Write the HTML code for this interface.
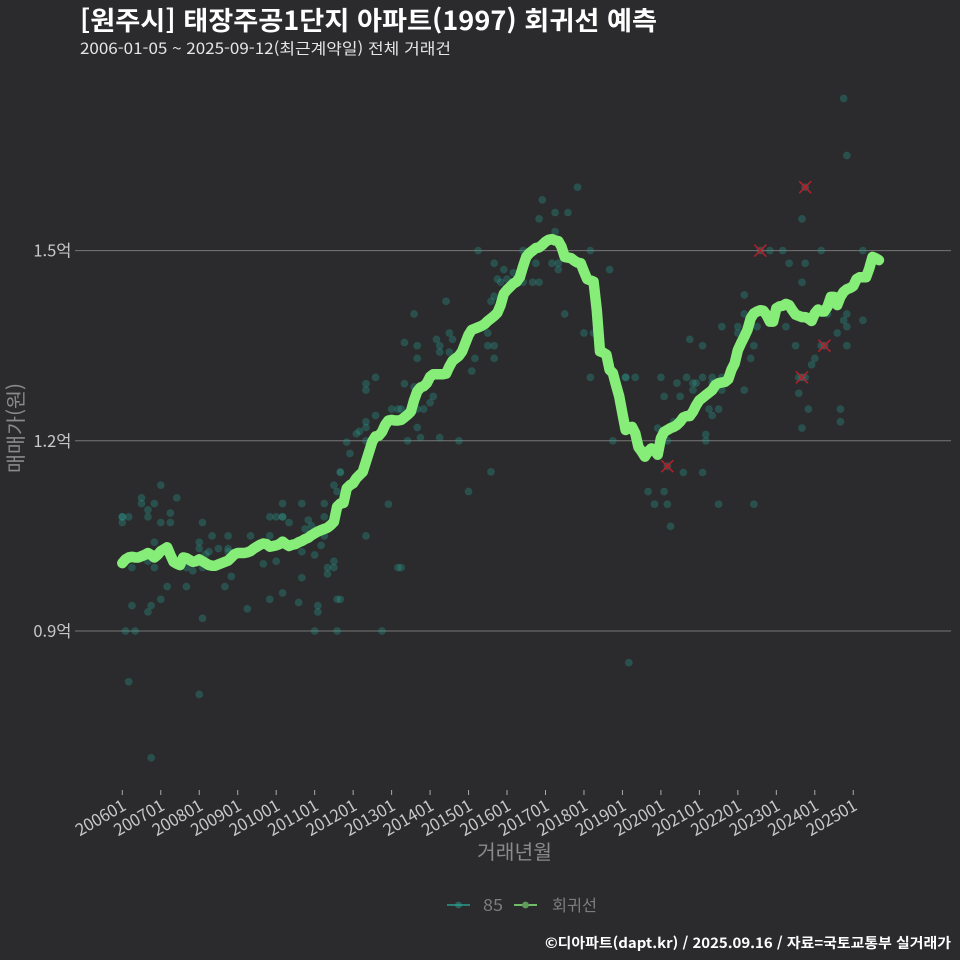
<!DOCTYPE html>
<html lang="ko">
<head>
<meta charset="utf-8">
<title>태장주공1단지 아파트 회귀선 예측</title>
<style>
html,body{margin:0;padding:0;background:#2b2b2d;}
svg{display:block;font-family:"Noto Sans CJK KR","Liberation Sans",sans-serif;}
</style>
</head>
<body>
<svg id="chart" width="960" height="960" viewBox="0 0 960 960" xmlns="http://www.w3.org/2000/svg">
<rect x="0" y="0" width="960" height="960" fill="#2b2b2d"/>
<text x="80" y="30" font-size="26" font-weight="700" fill="#ffffff" textLength="577" lengthAdjust="spacingAndGlyphs">[원주시] 태장주공1단지 아파트(1997) 회귀선 예측</text>
<text x="80" y="54" font-size="15.5" fill="#e6e6e6" textLength="371" lengthAdjust="spacingAndGlyphs">2006-01-05 ~ 2025-09-12(최근계약일) 전체 거래건</text>
<g id="grid"></g>
<g id="yticks"></g>
<g id="xticks"></g>
<g id="points"></g>
<g id="outliers"></g>
<path id="trend" fill="none" stroke="#86ee78" stroke-width="10.5" stroke-linecap="round" stroke-linejoin="round"/>
<text x="514.5" y="859" text-anchor="middle" font-size="20" fill="#8a8a8a" textLength="75" lengthAdjust="spacingAndGlyphs">거래년월</text>
<text transform="translate(23,428) rotate(-90)" text-anchor="middle" font-size="20" fill="#8a8a8a" textLength="90" lengthAdjust="spacingAndGlyphs">매매가(원)</text>
<g>
<line x1="447" y1="905" x2="470" y2="905" stroke="#2a9d8f" stroke-width="1.5"/>
<circle cx="458.5" cy="905" r="3.4" fill="#2a9d8f" fill-opacity="0.5"/>
<text x="483" y="911" font-size="16" fill="#7d7d7d" textLength="20" lengthAdjust="spacingAndGlyphs">85</text>
<line x1="514" y1="905" x2="537" y2="905" stroke="#86ee78" stroke-width="1.5"/>
<circle cx="525.5" cy="905" r="3.4" fill="#5f9c5c"/>
<text x="552" y="911" font-size="16" fill="#7d7d7d" textLength="45" lengthAdjust="spacingAndGlyphs">회귀선</text>
</g>
<text x="545" y="948" font-size="14" font-weight="700" fill="#ffffff" textLength="406" lengthAdjust="spacingAndGlyphs">©디아파트(dapt.kr) / 2025.09.16 / 자료=국토교통부 실거래가</text>
</svg>
<script>
const xTickLabels = ["200601","200701","200801","200901","201001","201101","201201","201301","201401","201501","201601","201701","201801","201901","202001","202101","202201","202301","202401","202501"];
const yTickValues = [0.9, 1.2, 1.5];
const yTickLabels = ["0.9억", "1.2억", "1.5억"];
const regressionValues = [
1.007,1.013,1.016,1.017,1.016,1.016,1.018,1.020,1.023,1.020,1.016,1.020,
1.026,1.029,1.032,1.020,1.009,1.006,1.004,1.016,1.015,1.012,1.009,1.010,
1.013,1.010,1.007,1.004,1.003,1.003,1.005,1.007,1.009,1.011,1.016,1.021,
1.023,1.023,1.023,1.024,1.026,1.030,1.033,1.036,1.038,1.037,1.033,1.034,
1.035,1.037,1.041,1.037,1.034,1.036,1.037,1.040,1.042,1.045,1.047,1.051,
1.054,1.057,1.059,1.061,1.063,1.067,1.072,1.096,1.101,1.102,1.125,1.130,
1.133,1.141,1.146,1.151,1.167,1.183,1.199,1.207,1.208,1.214,1.225,1.232,
1.233,1.232,1.232,1.233,1.237,1.241,1.246,1.264,1.278,1.284,1.286,1.291,
1.301,1.305,1.305,1.305,1.305,1.306,1.317,1.326,1.330,1.334,1.341,1.354,
1.367,1.375,1.377,1.379,1.381,1.384,1.389,1.393,1.397,1.402,1.414,1.432,
1.438,1.443,1.448,1.451,1.458,1.475,1.490,1.496,1.500,1.504,1.505,1.509,
1.514,1.517,1.518,1.516,1.515,1.506,1.490,1.489,1.488,1.484,1.481,1.480,
1.467,1.455,1.453,1.451,1.406,1.341,1.339,1.336,1.312,1.307,1.288,1.270,
1.243,1.217,1.221,1.222,1.212,1.190,1.183,1.175,1.183,1.188,1.185,1.178,
1.204,1.214,1.217,1.220,1.222,1.225,1.230,1.237,1.239,1.239,1.246,1.256,
1.264,1.268,1.272,1.276,1.280,1.288,1.291,1.292,1.293,1.297,1.312,1.322,
1.343,1.354,1.364,1.375,1.393,1.401,1.404,1.406,1.405,1.398,1.388,1.388,
1.409,1.412,1.413,1.416,1.414,1.406,1.399,1.397,1.395,1.395,1.393,1.389,
1.401,1.407,1.404,1.404,1.412,1.427,1.427,1.414,1.427,1.435,1.439,1.441,
1.444,1.455,1.458,1.458,1.458,1.472,1.490,1.488,1.485];
const dealMonths = [
12,6,6,10,17,8,8,15,0,0,2,0,12,15,25,50,56,63,46,48,50,50,52,58,59,57,63,68,66,67,
28,33,40,46,10,24,24,27,26,30,33,33,56,62,63,60,48,44,66,64,66,64,3,10,8,20,22,25,34,56,
14,20,32,50,12,46,67,68,3,9,39,55,61,61,8,25,1,4,60,67,2,24,9,
142,131,135,139,130,135,111,125,146,116,119,129,134,136,136,152,122,120,117,118,125,128,130,
101,115,116,91,138,102,114,144,147,98,103,88,99,92,114,116,99,102,92,110,116,109,79,146,157,157,160,
76,76,88,91,97,96,84,86,87,92,94,79,76,76,74,73,92,70,76,89,93,99,105,153,71,68,115,108,
83,86,87,81,76,
168,176,181,184,187,173,178,179,184,178,187,194,169,174,183,186,184,172,167,182,182,170,170,175,181,
164,169,166,170,186,197,171,158,196,197,210,218,219,226,216,215,212,213,211,211,214,224,224,212,
225,226,213,212,199,202,206,218,231,208,213,212,194,194,226,220,225,231,187,192,198,207,226,192,223,177,181];
const dealValues = [
1.130,1.110,1.101,1.101,1.110,1.091,1.080,1.086,1.080,1.080,1.080,1.071,1.071,1.071,1.071,1.101,1.101,1.101,1.080,1.080,1.080,1.080,1.071,1.075,1.066,1.061,1.080,1.150,1.130,1.120,
1.050,1.050,1.050,1.050,1.040,1.040,1.030,1.025,1.021,1.030,1.030,1.025,1.025,1.035,1.050,1.020,1.010,1.006,1.010,1.000,1.000,0.990,1.000,1.000,1.010,1.000,0.995,1.000,0.986,0.984,
0.970,0.970,0.970,0.960,0.950,0.950,0.950,0.950,0.940,0.940,0.935,0.945,0.940,0.930,0.930,0.920,0.900,0.900,0.900,0.900,0.820,0.800,0.700,
1.600,1.580,1.560,1.560,1.550,1.530,1.500,1.500,1.500,1.480,1.470,1.480,1.480,1.480,1.470,1.470,1.465,1.455,1.455,1.450,1.450,1.450,1.450,
1.420,1.420,1.428,1.400,1.400,1.370,1.370,1.370,1.370,1.360,1.360,1.355,1.350,1.350,1.350,1.350,1.340,1.340,1.330,1.330,1.330,1.310,1.300,1.300,1.300,1.300,1.300,
1.290,1.280,1.290,1.285,1.270,1.260,1.250,1.250,1.250,1.250,1.250,1.240,1.230,1.221,1.215,1.211,1.221,1.198,1.200,1.200,1.205,1.205,1.200,1.200,1.180,1.151,1.151,1.120,
1.100,1.000,1.000,0.900,1.050,
1.300,1.300,1.300,1.300,1.300,1.291,1.291,1.291,1.291,1.280,1.280,1.280,1.270,1.270,1.250,1.250,1.240,1.230,1.220,1.210,1.200,1.200,1.160,1.150,1.150,
1.120,1.120,1.100,1.100,1.100,1.100,1.065,0.850,1.330,1.350,1.350,1.350,1.350,1.350,1.330,1.320,1.300,1.300,1.300,1.275,1.250,1.250,1.230,1.220,
1.740,1.650,1.600,1.550,1.500,1.500,1.500,1.500,1.500,1.480,1.480,1.450,1.430,1.400,1.400,1.400,1.390,1.390,1.380,1.380,1.380,1.380,1.380,1.370,1.370,1.360,1.350];
const outlierMonths = [170, 199, 212, 213, 219];
const outlierValues = [1.16, 1.5, 1.3, 1.6, 1.35];

const SVG_NS = 'http://www.w3.org/2000/svg';
function xScale(month) { return 122.3 + 3.206 * month; }
function yScale(value) { return 631 - (value - 0.9) * 634; }
function labelToMonth(label) {
  return (Number(label.slice(0, 4)) - 2006) * 12 + Number(label.slice(4)) - 1;
}
function make(tag, parent, attrs) {
  const el = document.createElementNS(SVG_NS, tag);
  for (const key in attrs) el.setAttribute(key, attrs[key]);
  parent.appendChild(el);
  return el;
}

const gridGroup = document.getElementById('grid');
const yTickGroup = document.getElementById('yticks');
yTickValues.forEach(function (value, i) {
  const y = yScale(value);
  const gridline = make('line', gridGroup, { x1: 75, x2: 951, y1: y, y2: y, stroke: '#777777', 'stroke-width': 1 });
  
  
  const label = make('text', yTickGroup, { x: 71.5, y: y + 6, 'text-anchor': 'end', 'font-size': 16.5, fill: '#c8c8c8' });
  label.textContent = yTickLabels[i];
  
  
});

const xTickGroup = document.getElementById('xticks');
xTickLabels.forEach(function (text) {
  const x = xScale(labelToMonth(text));
  const tick = make('line', xTickGroup, { x1: x, x2: x, y1: 790, y2: 795, stroke: '#aaaaaa', 'stroke-width': 1 });
  
  
  const label = make('text', xTickGroup, { x: x + 5, y: 809, 'text-anchor': 'end', 'font-size': 16.5, fill: '#c8c8c8', transform: 'rotate(-30 ' + (x + 5) + ' 809)' });
  label.textContent = text;
  
  
});

const pointGroup = document.getElementById('points');
dealMonths.forEach(function (month, i) {
  const dot = make('circle', pointGroup, { cx: xScale(month), cy: yScale(dealValues[i]), r: 3.6, fill: '#2a9d8f', 'fill-opacity': 0.33, stroke: '#2a9d8f', 'stroke-opacity': 0.12, 'stroke-width': 1 });
  
  
});

const outlierGroup = document.getElementById('outliers');
outlierMonths.forEach(function (month, i) {
  const cx = xScale(month);
  const cy = yScale(outlierValues[i]);
  const dot = make('circle', outlierGroup, { cx: cx, cy: cy, r: 3.4, fill: '#c8202c', 'fill-opacity': 0.22 });
  
  
  const cross = make('path', outlierGroup, { d: 'M' + (cx - 6) + ' ' + (cy - 6) + 'L' + (cx + 6) + ' ' + (cy + 6) + 'M' + (cx - 6) + ' ' + (cy + 6) + 'L' + (cx + 6) + ' ' + (cy - 6), stroke: '#b5202c', 'stroke-width': 1.5, fill: 'none' });
  
  
});

document.getElementById('trend').setAttribute('d', regressionValues.map(function (value, month) {
  return (month === 0 ? 'M' : 'L') + xScale(month).toFixed(2) + ' ' + yScale(value).toFixed(2);
}).join(''));
</script>
</body>
</html>
